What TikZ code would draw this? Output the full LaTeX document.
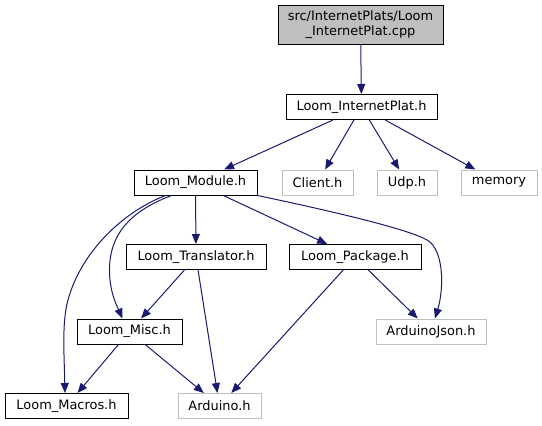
\documentclass[tikz,border=0pt]{standalone}
\usepackage{fontspec}
\setmainfont{DejaVu Sans}
\usetikzlibrary{arrows.meta,calc}
\definecolor{edgeblue}{HTML}{191970}
\definecolor{extgray}{HTML}{BFBFBF}
\tikzset{
  box/.style={draw=black, line width=0.75pt, fill=white, inner sep=0pt,
    minimum height=18.75pt, font=\fontsize{9.7}{11.5}\selectfont},
  extbox/.style={box, draw=extgray},
  topbox/.style={box, fill=extgray, minimum height=29.25pt, align=center},
  dep/.style={draw=edgeblue, line width=0.75pt,
    -{Triangle[length=7.5pt,width=6pt]}, fill=none},
}
\begin{document}
\begin{tikzpicture}[x=0.75pt,y=-0.75pt]
\useasboundingbox (0,0) rectangle (542,425);
\node[topbox, minimum width=123.75pt] (src) at (360.5,24.5) {src/InternetPlats/Loom\\\_InternetPlat.cpp};
\node[box, minimum width=113.25pt] (ip) at (361.5,107) {Loom\_InternetPlat.h};
\node[box, minimum width=92.25pt] (mod) at (195.5,182.5) {Loom\_Module.h};
\node[extbox, minimum width=53.25pt] (client) at (317.5,182.5) {Client.h};
\node[extbox, minimum width=45pt] (udp) at (407,182.5) {Udp.h};
\node[extbox, minimum width=57pt] (memory) at (499,182.5) {memory};
\node[box, minimum width=105pt] (trans) at (196,257) {Loom\_Translator.h};
\node[box, minimum width=99pt] (pkg) at (355,257) {Loom\_Package.h};
\node[box, minimum width=78.75pt] (misc) at (129.5,331.5) {Loom\_Misc.h};
\node[extbox, minimum width=82.5pt] (json) at (431,331.5) {ArduinoJson.h};
\node[box, minimum width=92.25pt] (macros) at (66.5,406) {Loom\_Macros.h};
\node[extbox, minimum width=62.25pt] (arduino) at (219.5,406) {Arduino.h};

\draw[dep] (src) -- (ip);
\draw[dep] (ip) -- (mod);
\draw[dep] (ip) -- (client);
\draw[dep] (ip) -- (udp);
\draw[dep] (ip) -- (memory);
\draw[dep] (mod) -- (trans);
\draw[dep] (mod) -- (pkg);
\draw[dep] (trans) -- (misc);
\draw[dep] (trans) -- (arduino);
\draw[dep] (pkg) -- (arduino);
\draw[dep] (pkg) -- (json);
\draw[dep] (misc) -- (macros);
\draw[dep] (misc) -- (arduino);
% curved dependencies
\draw[dep] (mod.south east) .. controls (350,215) and (418,232) .. (430,242)
  .. controls (445,256) and (443,292) .. ($(json.north)+(4,0)$);
\draw[dep] ($(mod.south)+(-24,0)$) .. controls (125,213) and (106,240) .. (110,280)
  .. controls (112,298) and (118,308) .. ($(misc.north)+(-7,0)$);
\draw[dep] ($(mod.south)+(-30,0)$) .. controls (120,213) and (80,255) .. (68,300)
  .. controls (62,322) and (64,350) .. ($(macros.north)+(-1.5,0)$);
\end{tikzpicture}
\end{document}
